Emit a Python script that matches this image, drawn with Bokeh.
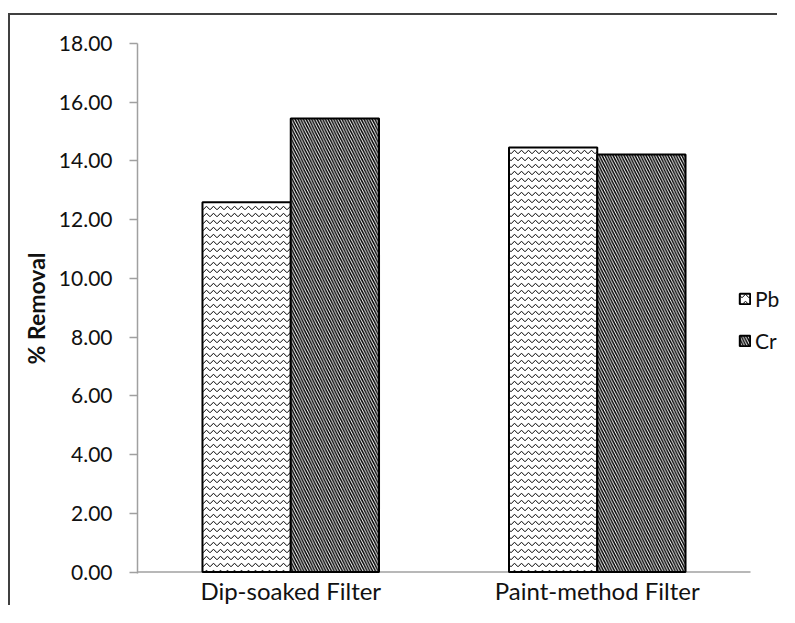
from bokeh.plotting import figure
from bokeh.models import ColumnDataSource, Range1d, Legend, LegendItem, FixedTicker, NumeralTickFormatter
from bokeh.embed import file_html
from bokeh.resources import INLINE

categories = ["Dip-soaked Filter", "Paint-method Filter"]
pb_values = [12.59, 14.46]
cr_values = [15.45, 14.22]
y_ticks = [0, 2, 4, 6, 8, 10, 12, 14, 16, 18]

FONT = "Lato"
W, H = 769, 592
TEXT = "#111111"
AXIS = "#a0a0a0"
BAR_W = 0.288
# frame spans 642 px; the two category slots take 613 px of it (legend sits in the remaining strip)
X_END = len(categories) * 642 / 613

centers = [i + 0.5 for i in range(len(categories))]
source = ColumnDataSource(data=dict(
    x_pb=[c - BAR_W / 2 for c in centers], x_cr=[c + BAR_W / 2 for c in centers],
    Pb=pb_values, Cr=cr_values))

p = figure(x_range=Range1d(0, X_END), y_range=Range1d(-0.05, 18),
           width=W, height=H, output_backend="svg", toolbar_location=None,
           min_border_left=127, min_border_right=0, min_border_top=28, min_border_bottom=33)
p.styles = {"margin-left": "8px", "margin-top": "13px",
            "border-left": "2px solid #404040", "border-top": "2px solid #404040"}
p.outline_line_color = None
p.xgrid.grid_line_color = None
p.ygrid.grid_line_color = None

# category axis baseline (only under the category slots)
p.segment(x0=[0], x1=[len(categories)], y0=[0], y1=[0], line_color=AXIS, line_width=1.5)

r_pb = p.vbar(x="x_pb", top="Pb", width=BAR_W, source=source,
              fill_color="white", line_color="black", line_width=2,
              hatch_pattern="horizontal_wave", hatch_color="black", hatch_scale=7, hatch_weight=1)
r_cr = p.vbar(x="x_cr", top="Cr", width=BAR_W, source=source,
              fill_color="white", line_color="black", line_width=2,
              hatch_pattern="left_diagonal_line", hatch_color="black", hatch_scale=5.5, hatch_weight=1.5)

legend = Legend(items=[LegendItem(label="Pb", renderers=[r_pb]), LegendItem(label="Cr", renderers=[r_cr])],
                location=(601, 220), background_fill_alpha=0, border_line_color=None,
                padding=0, margin=0, spacing=17, glyph_width=13, glyph_height=13, label_height=24,
                label_standoff=4, label_text_font=FONT, label_text_font_size="21px", label_text_color=TEXT)
p.add_layout(legend, "center")

p.yaxis.ticker = FixedTicker(ticks=y_ticks)
p.yaxis.formatter = NumeralTickFormatter(format="0.00")
p.yaxis.axis_label = "% Removal"
p.yaxis.axis_label_text_font = FONT
p.yaxis.axis_label_text_font_style = "bold"
p.yaxis.axis_label_text_font_size = "23px"
p.yaxis.axis_label_text_color = TEXT
p.yaxis.axis_label_standoff = 6
p.yaxis.major_label_text_font = FONT
p.yaxis.major_label_text_font_size = "21px"
p.yaxis.major_label_text_color = TEXT
p.yaxis.major_label_standoff = 17
p.yaxis.major_tick_out = 8
p.yaxis.major_tick_in = 0
p.yaxis.minor_tick_line_color = None
p.yaxis.axis_line_color = AXIS
p.yaxis.major_tick_line_color = AXIS
p.yaxis.axis_line_width = 1.5
p.yaxis.major_tick_line_width = 1.5

p.xaxis.ticker = FixedTicker(ticks=centers)
p.xaxis.major_label_overrides = {c: name for c, name in zip(centers, categories)}
p.xaxis.major_label_text_font = FONT
p.xaxis.major_label_text_font_size = "24px"
p.xaxis.major_label_text_color = TEXT
p.xaxis.major_label_standoff = 2
p.xaxis.major_tick_out = 0
p.xaxis.major_tick_in = 0
p.xaxis.major_tick_line_color = None
p.xaxis.minor_tick_line_color = None
p.xaxis.axis_line_color = None

open("out.html", "w").write(file_html(p, INLINE))
